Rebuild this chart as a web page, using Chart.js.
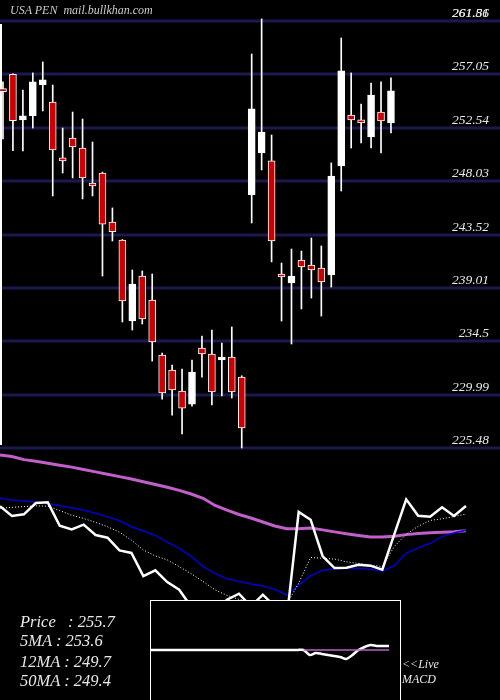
<!DOCTYPE html>
<html><head><meta charset="utf-8">
<script src="https://cdn.jsdelivr.net/npm/chart.js@4"></script>
<style>
html,body{margin:0;padding:0;background:#000;width:500px;height:700px;overflow:hidden}
canvas{position:absolute;display:block}
#macdBox{position:absolute;left:150px;top:600px;width:249px;height:110px;border:1px solid #fff;background:#000}
.t{position:absolute;color:#e8e8e8;font-family:"Liberation Serif",serif;font-style:italic;white-space:pre}
</style></head><body>
<canvas id="top" width="500" height="450" style="left:0;top:0"></canvas>
<canvas id="bot" width="500" height="250" style="left:0;top:450px"></canvas>
<div id="macdBox"><canvas id="macd" width="249" height="99" style="left:0;top:0"></canvas></div>
<div class="t" style="left:10px;top:3px;font-size:12px;color:#ccc">USA PEN  mail.bullkhan.com</div>
<div class="t" style="left:20px;top:612px;font-size:16.5px">Price   : 255.7</div>
<div class="t" style="left:20px;top:631px;font-size:16.5px">5MA : 253.6</div>
<div class="t" style="left:20px;top:652px;font-size:16.5px">12MA : 249.7</div>
<div class="t" style="left:20px;top:671px;font-size:16.5px">50MA : 249.4</div>
<div class="t" style="left:402px;top:657px;font-size:12px">&lt;&lt;Live</div>
<div class="t" style="left:402px;top:672px;font-size:12px">MACD</div>
<script>
const opens  = [255.79,257.06,253.20,253.56,256.18,254.72,249.99,251.68,250.83,247.79,248.72,244.58,243.06,236.22,240.02,237.99,233.35,232.08,230.31,229.21,233.94,233.44,232.93,233.18,231.49,246.86,250.41,249.74,240.11,239.43,241.37,240.95,240.70,240.11,249.31,253.62,253.11,251.76,253.87,252.95];
const highs  = [256.41,257.09,255.73,257.17,258.10,256.15,252.52,253.87,253.28,251.34,248.80,245.77,243.10,240.53,240.45,240.19,233.52,232.51,232.17,232.93,234.95,235.46,234.36,235.72,231.60,258.77,261.73,251.93,241.12,242.30,242.13,243.23,242.56,249.57,260.12,257.17,254.55,256.32,256.41,256.75];
const lows   = [251.59,250.61,250.58,252.52,253.96,246.78,248.72,248.30,246.53,246.78,240.02,242.98,236.14,235.46,235.97,232.84,229.63,228.28,226.68,229.04,231.49,229.13,229.89,229.72,225.50,244.50,248.98,241.21,236.22,234.28,237.24,238.16,236.64,239.09,247.20,250.83,251.26,250.83,250.41,252.10];
const closes = [255.59,253.14,253.54,256.41,256.58,250.66,249.74,250.92,248.30,247.62,244.41,243.76,237.91,239.35,236.39,234.45,230.14,230.40,228.87,231.91,233.44,230.23,233.18,230.23,227.19,254.13,252.18,242.98,239.94,240.02,240.78,240.53,239.52,248.47,257.34,253.20,252.95,255.31,253.11,255.65];
const ma5  = [255.1,255.3,255.5,255.7,255.6,254.5,253.3,252.5,251.5,250.4,249.0,247.0,244.5,243.0,242.0,240.3,238.5,236.5,234.4,233.0,232.0,231.5,231.3,231.0,230.8,236.1,242.6,242.4,242.2,241.5,241.1,240.7,240.3,245.4,248.5,250.5,252.0,252.4,253.0,253.6];
const ma12 = [257.6,257.2,256.9,256.6,256.3,255.7,255.2,254.6,253.8,252.9,251.9,250.4,249.3,248.2,246.5,244.9,242.9,240.3,238.6,237.2,236.5,235.9,235.4,234.5,233.1,235.6,238.0,239.4,239.7,239.9,239.9,239.6,239.2,240.5,243.7,245.0,246.2,247.9,248.8,249.5];
const ma50 = [268.6,268.2,267.4,267.0,266.5,266.0,265.5,264.9,264.3,263.7,263.1,262.5,261.8,261.1,260.4,259.6,258.7,257.6,255.8,254.6,253.5,252.6,251.6,250.6,249.9,249.9,250.1,249.6,249.1,248.6,248.2,247.8,247.8,248.0,248.4,248.7,248.9,249.0,249.1,249.4];
const macdLine = [0,0,0,0,0,0,0,0,0,0,0,0,0,0,0,0,0,0,0,0,0,0,0,0,0,0,-5,-3,-4,-5,-6,-7,-9,-5,0,3,5,4,4,4];
const signalLine=[null,null,null,null,null,null,null,null,null,null,null,null,null,null,null,null,null,null,null,null,null,null,null,null,null,0,0,0,0,0,0,0,0,0,0,0,0,0,0,0];
const priceTicks = [261.56,257.05,252.54,248.03,243.52,239.01,234.5,229.99,225.48];
const extraTopLabel = "261.81";

const idx = closes.map((_, i) => i);
const up = closes.map((c, i) => c >= opens[i]);

const gridPlugin = {
  id: 'grid',
  beforeDatasetsDraw(chart) {
    const {ctx, scales: {y}} = chart;
    ctx.save();
    ctx.strokeStyle = '#1a1a4e'; ctx.lineWidth = 3;
    priceTicks.forEach(v => { const py = Math.round(y.getPixelForValue(v)); ctx.beginPath(); ctx.moveTo(0, py); ctx.lineTo(500, py); ctx.stroke(); });
    ctx.strokeStyle = '#fff'; ctx.lineWidth = 2;
    ctx.beginPath(); ctx.moveTo(1, y.getPixelForValue(priceTicks[0]) + 3); ctx.lineTo(1, 445); ctx.stroke();
    ctx.restore();
  },
  afterDatasetsDraw(chart) {
    const {ctx, scales: {y}} = chart;
    ctx.save();
    ctx.fillStyle = '#e8e8e8'; ctx.font = 'italic 13.5px "Liberation Serif"';
    ctx.textAlign = 'right'; ctx.textBaseline = 'alphabetic';
    priceTicks.forEach(v => ctx.fillText(String(v), 489, y.getPixelForValue(v) - 4));
    ctx.fillText(extraTopLabel, 489, y.getPixelForValue(priceTicks[0]) - 4);
    ctx.restore();
  }
};

new Chart(document.getElementById('top'), {
  data: {
    datasets: [
      { type: 'bar', order: 2, data: idx.map(i => ({x: i, y: [lows[i], highs[i]]})), backgroundColor: '#fff', barThickness: 1, grouped: false, borderWidth: 0 },
      { type: 'bar', order: 1, data: idx.map(i => ({x: i, y: [opens[i], closes[i]]})), backgroundColor: up.map(u => u ? '#fff' : '#cc0000'), borderColor: '#fff', borderWidth: 1, borderSkipped: false, barThickness: 7, grouped: false, minBarLength: 3 }
    ]
  },
  options: {
    responsive: false, animation: false, devicePixelRatio: 1,
    layout: { padding: 0 },
    plugins: { legend: { display: false }, tooltip: { enabled: false } },
    scales: {
      x: { type: 'linear', display: false, min: -0.3, max: 49.96, offset: false },
      y: { display: false, min: 225.33, max: 263.33 }
    }
  },
  plugins: [gridPlugin]
});

new Chart(document.getElementById('bot'), {
  type: 'line',
  data: {
    datasets: [
      { data: closes.map((c,i)=>({x:i,y:c})), borderColor: '#fff', borderWidth: 2.5, order: 0 },
      { data: ma5.map((c,i)=>({x:i,y:c})), borderColor: '#fff', borderWidth: 1, borderDash: [1, 2], order: 1 },
      { data: ma12.map((c,i)=>({x:i,y:c})), borderColor: '#0000d0', borderWidth: 1.5, order: 2 },
      { data: ma50.map((c,i)=>({x:i,y:c})), borderColor: '#c060c8', borderWidth: 3, order: 3 }
    ]
  },
  options: {
    responsive: false, animation: false, devicePixelRatio: 1,
    layout: { padding: 0 },
    elements: { point: { radius: 0 }, line: { tension: 0 } },
    plugins: { legend: { display: false }, tooltip: { enabled: false } },
    scales: {
      x: { type: 'linear', display: false, min: 0, max: 41.85 },
      y: { display: false, min: 206.5, max: 269.84 }
    }
  }
});

new Chart(document.getElementById('macd'), {
  type: 'line',
  data: {
    datasets: [
      { data: signalLine.map((c,i)=>({x:i,y:c})), borderColor: '#c060c8', borderWidth: 1.5, order: 0 },
      { data: macdLine.map((c,i)=>({x:i,y:c})), borderColor: '#fff', borderWidth: 2.5, order: 1 }
    ]
  },
  options: {
    responsive: false, animation: false, devicePixelRatio: 1,
    layout: { padding: 0 },
    elements: { point: { radius: 0 }, line: { tension: 0.3 } },
    plugins: { legend: { display: false }, tooltip: { enabled: false } },
    scales: {
      x: { type: 'linear', display: false, min: 0, max: 40.8 },
      y: { display: false, min: -50, max: 49 }
    }
  }
});
</script>
</body></html>
